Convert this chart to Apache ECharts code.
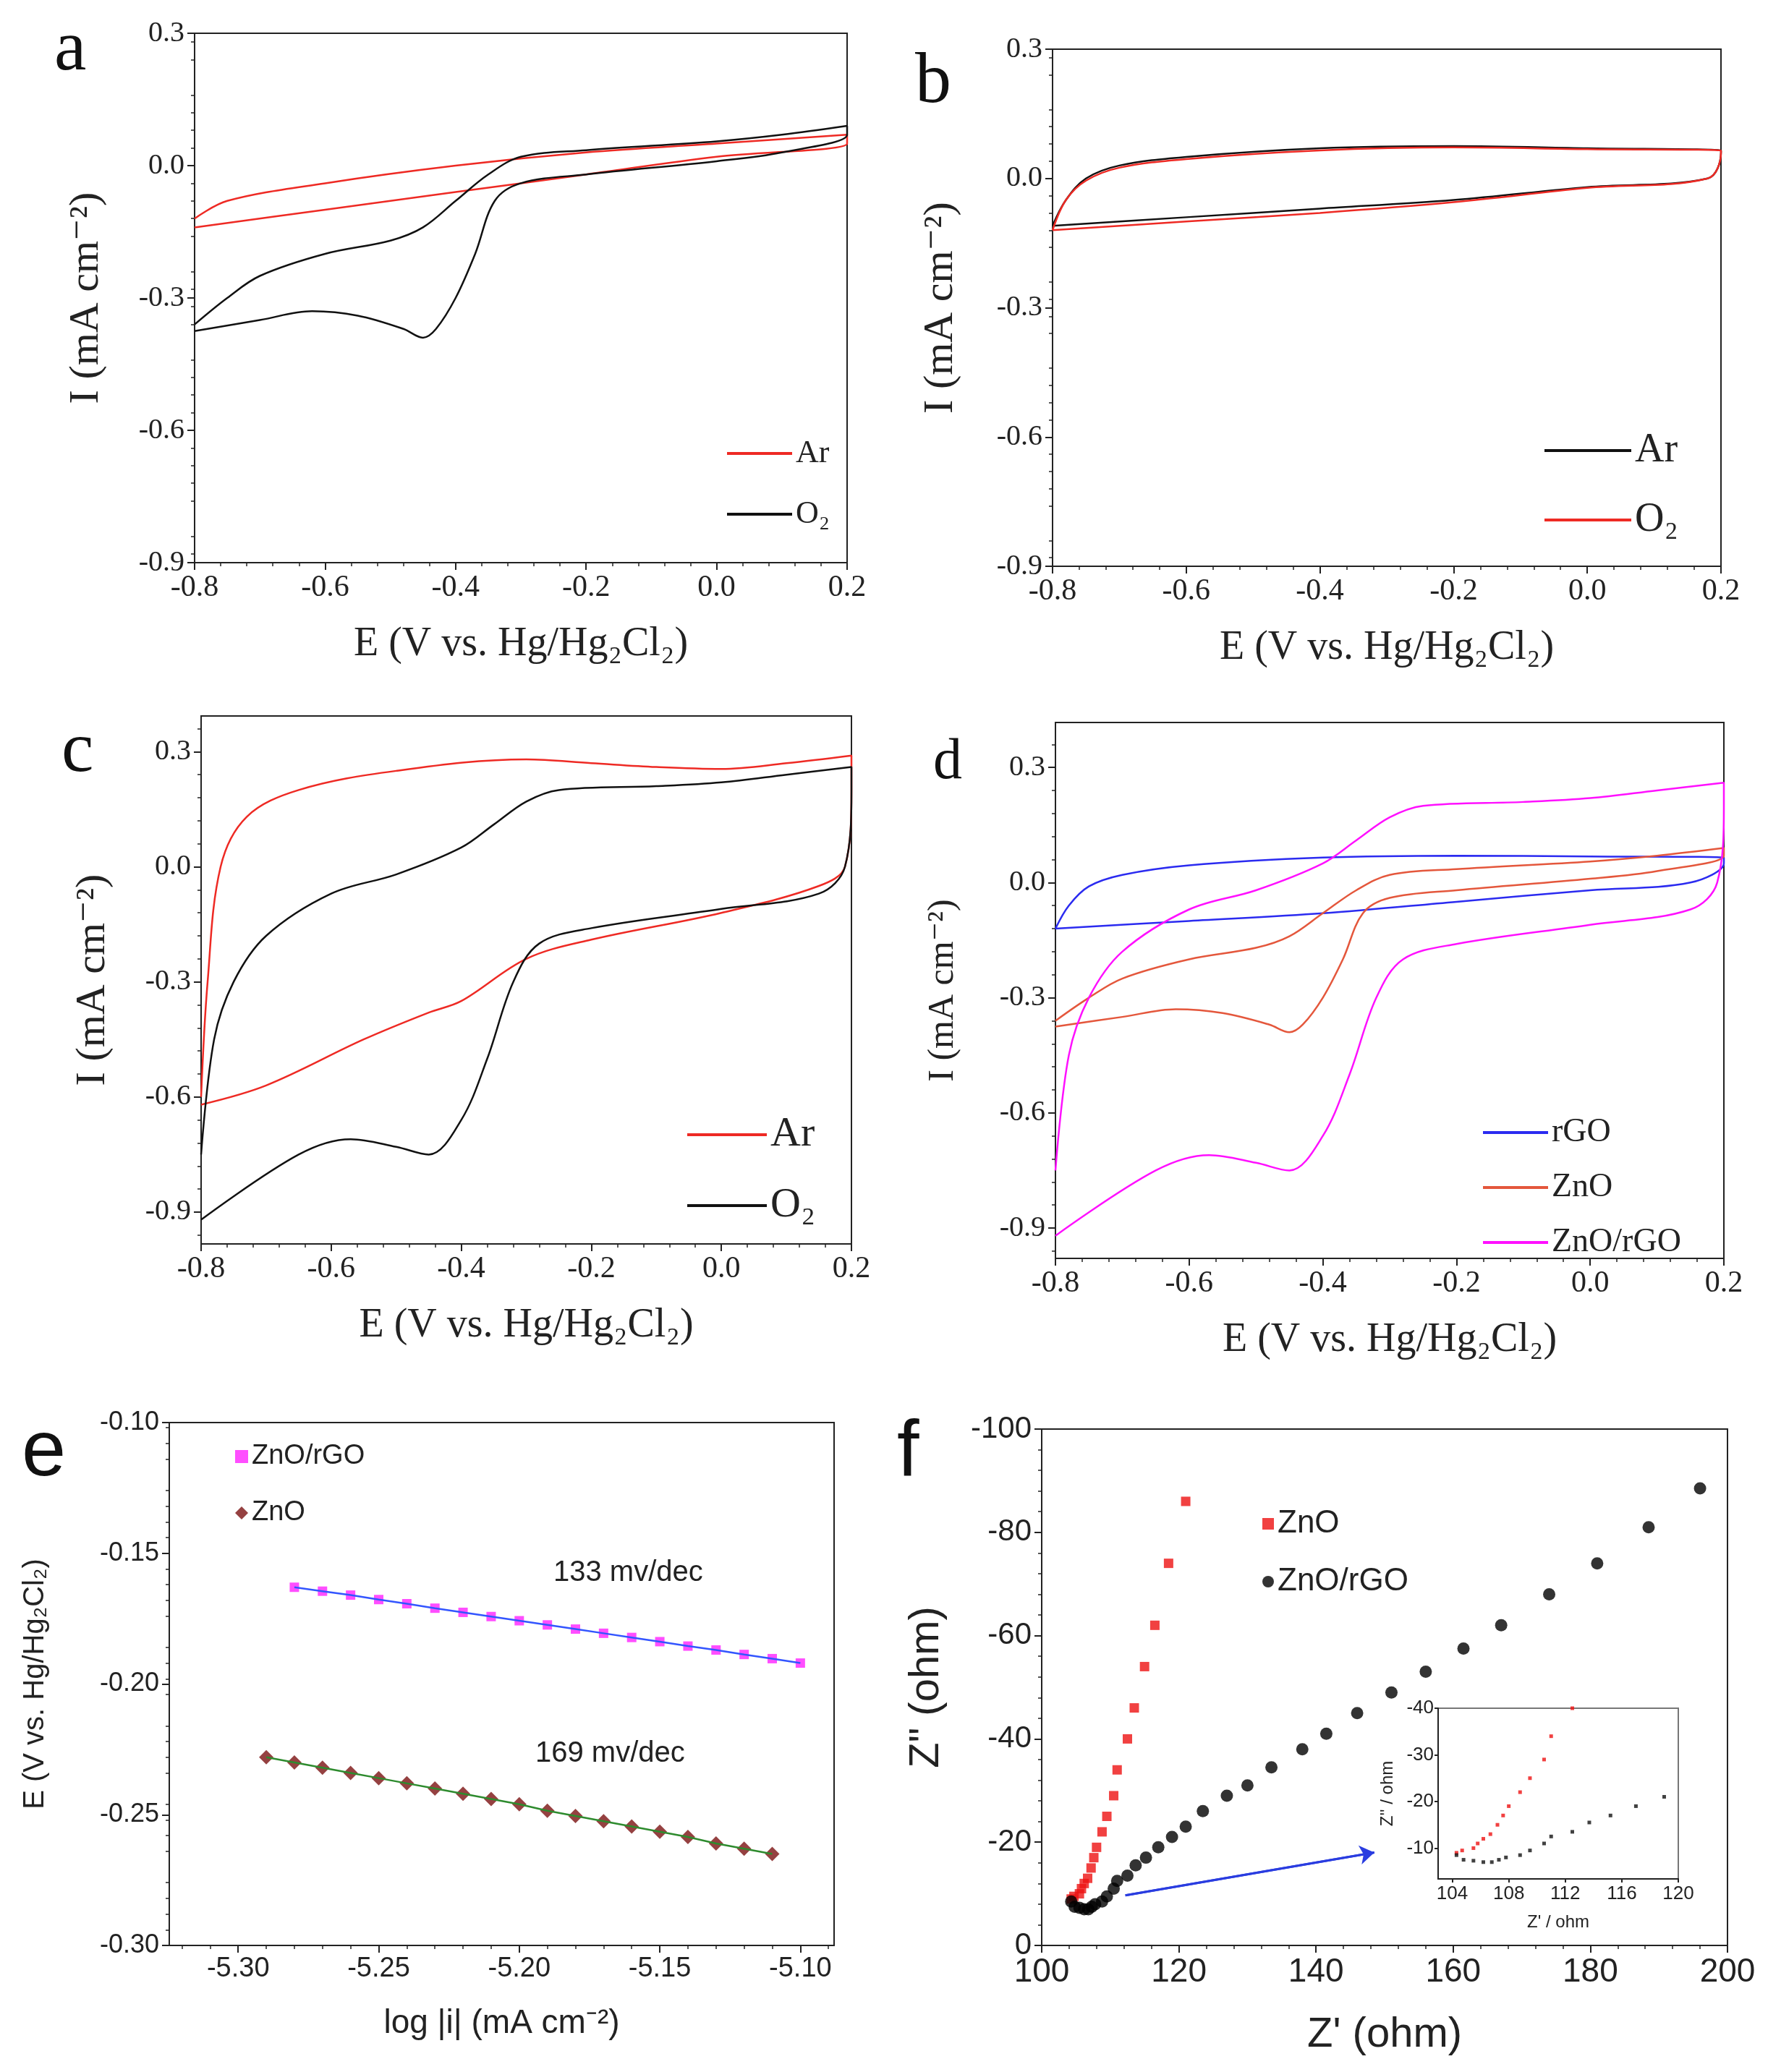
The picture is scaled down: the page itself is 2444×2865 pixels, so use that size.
<!DOCTYPE html>
<html><head><meta charset="utf-8">
<script src="https://cdn.jsdelivr.net/npm/echarts@6/dist/echarts.min.js"></script>
<style>html,body{margin:0;background:#fff}#c{width:2444px;height:2865px}</style>
</head><body><div id="c"></div>
<script>
// CV loops: [E, I] pairs, forward scan then return scan
const aAr = [[-0.8,-0.12],[-0.75,-0.08],[-0.6,-0.04],[-0.4,0.0],[-0.2,0.03],[0,0.05],[0.2,0.07],
  [0.2,0.05],[0,0.02],[-0.2,-0.02],[-0.4,-0.06],[-0.6,-0.1],[-0.8,-0.14]];
const aO2 = [[-0.8,-0.36],[-0.75,-0.3],[-0.7,-0.25],[-0.6,-0.2],[-0.5,-0.17],[-0.45,-0.14],[-0.4,-0.08],[-0.35,-0.02],[-0.3,0.02],[-0.2,0.035],[0,0.055],[0.1,0.07],[0.2,0.09],
  [0.2,0.07],[0.1,0.03],[0,0.01],[-0.2,-0.02],[-0.3,-0.04],[-0.34,-0.08],[-0.37,-0.2],[-0.4,-0.3],[-0.43,-0.37],[-0.45,-0.39],[-0.48,-0.37],[-0.55,-0.34],[-0.62,-0.33],[-0.7,-0.35],[-0.8,-0.375]];
const bAr = [[-0.8,-0.11],[-0.78,-0.05],[-0.75,0.0],[-0.7,0.03],[-0.6,0.05],[-0.4,0.07],[-0.2,0.075],[0,0.07],[0.2,0.065],
  [0.2,0.06],[0.18,0.0],[0,-0.02],[-0.2,-0.05],[-0.4,-0.07],[-0.6,-0.09],[-0.8,-0.11]];
const bO2 = [[-0.8,-0.12],[-0.78,-0.05],[-0.75,-0.005],[-0.7,0.025],[-0.6,0.045],[-0.4,0.065],[-0.2,0.072],[0,0.068],[0.2,0.065],
  [0.2,0.06],[0.18,0.0],[0,-0.022],[-0.2,-0.055],[-0.4,-0.08],[-0.6,-0.1],[-0.8,-0.12]];
const cAr = [[-0.8,-0.6],[-0.79,-0.3],[-0.77,0.0],[-0.73,0.13],[-0.65,0.2],[-0.5,0.25],[-0.3,0.28],[-0.2,0.27],[-0.1,0.26],[0,0.255],[0.1,0.27],[0.2,0.29],
  [0.2,0.2],[0.19,0.0],[0.15,-0.05],[0,-0.12],[-0.2,-0.19],[-0.3,-0.24],[-0.4,-0.35],[-0.45,-0.38],[-0.55,-0.45],[-0.7,-0.57],[-0.8,-0.62]];
const cO2 = [[-0.8,-0.75],[-0.78,-0.45],[-0.75,-0.3],[-0.7,-0.18],[-0.6,-0.07],[-0.5,-0.02],[-0.4,0.05],[-0.35,0.11],[-0.3,0.17],[-0.25,0.2],[-0.1,0.21],[0,0.22],[0.1,0.24],[0.2,0.26],
  [0.2,0.2],[0.19,0.0],[0.15,-0.07],[0,-0.11],[-0.2,-0.16],[-0.28,-0.2],[-0.32,-0.3],[-0.36,-0.5],[-0.4,-0.66],[-0.45,-0.75],[-0.5,-0.73],[-0.57,-0.71],[-0.65,-0.75],[-0.8,-0.92]];
const dRGO = [[-0.8,-0.12],[-0.78,-0.06],[-0.75,-0.01],[-0.7,0.02],[-0.6,0.045],[-0.4,0.065],[-0.2,0.07],[0,0.068],[0.2,0.065],
  [0.2,0.05],[0.15,0.0],[0,-0.02],[-0.2,-0.05],[-0.4,-0.08],[-0.6,-0.1],[-0.8,-0.12]];

// Tafel
const eXRgo = [-5.28,-5.27,-5.26,-5.25,-5.24,-5.23,-5.22,-5.21,-5.20,-5.19,-5.18,-5.17,-5.16,-5.15,-5.14,-5.13,-5.12,-5.11,-5.10];
const eYRgo = [-0.163,-0.1645,-0.166,-0.1677,-0.1693,-0.171,-0.1726,-0.1742,-0.1758,-0.1774,-0.179,-0.1806,-0.1822,-0.1838,-0.1855,-0.187,-0.1887,-0.1903,-0.192];
const eXZno = [-5.29,-5.28,-5.27,-5.26,-5.25,-5.24,-5.23,-5.22,-5.21,-5.20,-5.19,-5.18,-5.17,-5.16,-5.15,-5.14,-5.13,-5.12,-5.11];
const eYZno = [-0.228,-0.230,-0.232,-0.234,-0.236,-0.238,-0.240,-0.242,-0.244,-0.246,-0.2485,-0.2505,-0.2525,-0.2545,-0.2565,-0.2585,-0.261,-0.263,-0.265];

// Nyquist
const fZno = [[104.3,-9],[104.7,-9.5],[105.5,-10],[105.8,-11],[106.2,-12],[106.7,-13],[107.2,-15],[107.6,-17],[108,-19],[108.8,-22],[109.5,-25],[110.5,-29],[111,-34],[112.5,-40],[113.5,-46],[115,-54],[116.5,-62],[118.5,-74],[121,-86]];
const fRgo = [[104.3,-8.5],[104.8,-7.5],[105.5,-7.3],[106.2,-7],[106.8,-7],[107.3,-7.5],[107.8,-8],[108.8,-8.5],[109.5,-9.5],[110.5,-11],[111,-12.5],[112.5,-13.5],[113.7,-15.5],[115.2,-17],[117,-19],[119,-21],[121,-23],[123.5,-26],[127,-29],[130,-31],[133.5,-34.5],[138,-38],[141.5,-41],[146,-45],[151,-49],[156,-53],[161.5,-57.5],[167,-62],[174,-68],[181,-74],[188.5,-81],[196,-88.5]];
const arrowLine = [[112.2,-9.7],[148.5,-18]];

const SERIF = "'Liberation Serif', 'DejaVu Serif', serif";
const SANS = "'Liberation Sans', Arial, sans-serif";
const cvTicksX = [-0.8,-0.6,-0.4,-0.2,0.0,0.2];
const cvTicksY = [-0.9,-0.6,-0.3,0.0,0.3];

const grids = [
  { left: 269, top: 46, width: 902, height: 732 },
  { left: 1455, top: 68, width: 924, height: 715 },
  { left: 278, top: 990, width: 899, height: 730 },
  { left: 1459, top: 999, width: 924, height: 741 },
  { left: 234, top: 1967, width: 919, height: 723 },
  { left: 1440, top: 1976, width: 948, height: 714 },
  { left: 1988, top: 2362, width: 332, height: 236 },
].map(g => Object.assign({ show: true, borderColor: '#222', borderWidth: 2, backgroundColor: 'transparent' }, g));
grids[6].borderColor = '#777';

function axisCommon(font, size, fmt, ticks) {
  return {
    axisLine: { onZero: false, lineStyle: { color: '#222', width: 2 } },
    axisTick: { inside: false, length: 10, lineStyle: { color: '#222', width: 2 }, customValues: ticks },
    minorTick: { show: true, length: 5, lineStyle: { color: '#222', width: 1.5 } },
    axisLabel: { color: '#222', fontFamily: font, fontSize: size, formatter: fmt, customValues: ticks, margin: 14 },
    splitLine: { show: false },
  };
}
const f1 = v => v.toFixed(1), f2 = v => v.toFixed(2);

function cvX(i) {
  return Object.assign(axisCommon(SERIF, 42, f1, cvTicksX), {
    type: 'value', gridIndex: i, min: -0.8, max: 0.2,
    name: 'E (V vs. Hg/Hg₂Cl₂)', nameLocation: 'middle', nameGap: 85,
    nameTextStyle: { fontFamily: SERIF, fontSize: 56, color: '#222' },
  });
}
function cvY(i, min, max, gap, size) {
  return Object.assign(axisCommon(SERIF, 40, f1, cvTicksY), {
    type: 'value', gridIndex: i, min, max,
    name: 'I (mA cm⁻²)', nameLocation: 'middle', nameGap: gap, nameRotate: 90,
    nameTextStyle: { fontFamily: SERIF, fontSize: size, color: '#222' },
  });
}

const xAxis = [
  cvX(0), cvX(1), cvX(2), cvX(3),
  Object.assign(axisCommon(SANS, 38, f2, [-5.30,-5.25,-5.20,-5.15,-5.10]), {
    type: 'value', gridIndex: 4, min: -5.3245, max: -5.088,
    name: 'log |i| (mA cm⁻²)', nameLocation: 'middle', nameGap: 85,
    nameTextStyle: { fontFamily: SANS, fontSize: 46, color: '#222' } }),
  Object.assign(axisCommon(SANS, 46, null, [100,120,140,160,180,200]), {
    type: 'value', gridIndex: 5, min: 100, max: 200,
    name: "Z' (ohm)", nameLocation: 'middle', nameGap: 95,
    nameTextStyle: { fontFamily: SANS, fontSize: 58, color: '#222' } }),
  Object.assign(axisCommon(SANS, 26, null, [104,108,112,116,120]), {
    type: 'value', gridIndex: 6, min: 103, max: 120,
    name: "Z' / ohm", nameLocation: 'middle', nameGap: 48,
    nameTextStyle: { fontFamily: SANS, fontSize: 24, color: '#222' } }),
];
const yAxis = [
  cvY(0, -0.9, 0.3, 120, 58), cvY(1, -0.9, 0.3, 125, 58),
  cvY(2, -0.983, 0.393, 120, 58), cvY(3, -0.979, 0.417, 130, 50),
  Object.assign(axisCommon(SANS, 36, f2, [-0.30,-0.25,-0.20,-0.15,-0.10]), {
    type: 'value', gridIndex: 4, min: -0.30, max: -0.10,
    name: 'E (V vs. Hg/Hg₂Cl₂)', nameLocation: 'middle', nameGap: 165, nameRotate: 90,
    nameTextStyle: { fontFamily: SANS, fontSize: 40, color: '#222' } }),
  Object.assign(axisCommon(SANS, 42, null, [0,-20,-40,-60,-80,-100]), {
    type: 'value', gridIndex: 5, min: -100, max: 0, inverse: true,
    name: 'Z" (ohm)', nameLocation: 'middle', nameGap: 130, nameRotate: 90,
    nameTextStyle: { fontFamily: SANS, fontSize: 58, color: '#222' } }),
  Object.assign(axisCommon(SANS, 26, null, [-10,-20,-30,-40]), {
    type: 'value', gridIndex: 6, min: -40, max: -3.4, inverse: true,
    name: "Z'' / ohm", nameLocation: 'middle', nameGap: 58, nameRotate: 90,
    nameTextStyle: { fontFamily: SANS, fontSize: 24, color: '#222' } }),
];
yAxis[6].minorTick = { show: false };
xAxis[6].minorTick = { show: false };
yAxis[6].axisLabel.margin = 6; xAxis[6].axisLabel.margin = 8;
yAxis[6].axisTick.length = 5; xAxis[6].axisTick.length = 5;

function cv(name, data, i, color) {
  return { name, type: 'line', xAxisIndex: i, yAxisIndex: i, data, smooth: 0.35,
    symbol: 'none', lineStyle: { color, width: 2.5 }, itemStyle: { color } };
}
const RED = '#ee2a24', BLK = '#111';
const series = [
  cv('Ar', aAr, 0, RED), cv('O₂', aO2, 0, BLK),
  cv('Ar ', bAr, 1, BLK), cv('O₂ ', bO2, 1, RED),
  cv('Ar  ', cAr, 2, RED), cv('O₂  ', cO2, 2, BLK),
  cv('rGO', dRGO, 3, '#2b2bf0'), cv('ZnO', aO2, 3, '#e4573c'), cv('ZnO/rGO', cO2, 3, '#ff10ff'),
  { type: 'line', xAxisIndex: 4, yAxisIndex: 4, data: eXRgo.map((x, k) => [x, eYRgo[k]]), symbol: 'none', lineStyle: { color: '#3355ff', width: 2.5 }, silent: true },
  { name: 'ZnO/rGO ', type: 'scatter', xAxisIndex: 4, yAxisIndex: 4, data: eXRgo.map((x, k) => [x, eYRgo[k]]), symbol: 'rect', symbolSize: 13, itemStyle: { color: '#ff22ff' } },
  { type: 'line', xAxisIndex: 4, yAxisIndex: 4, data: eXZno.map((x, k) => [x, eYZno[k]]), symbol: 'none', lineStyle: { color: '#2e8b2e', width: 2.5 }, silent: true },
  { name: 'ZnO ', type: 'scatter', xAxisIndex: 4, yAxisIndex: 4, data: eXZno.map((x, k) => [x, eYZno[k]]), symbol: 'diamond', symbolSize: 20, itemStyle: { color: '#7a1212' } },
  { name: 'ZnO  ', type: 'scatter', xAxisIndex: 5, yAxisIndex: 5, data: fZno, symbol: 'rect', symbolSize: 13, itemStyle: { color: '#ee1111' } },
  { name: 'ZnO/rGO  ', type: 'scatter', xAxisIndex: 5, yAxisIndex: 5, data: fRgo, symbol: 'circle', symbolSize: 17, itemStyle: { color: '#000' } },
  { type: 'line', xAxisIndex: 5, yAxisIndex: 5, data: arrowLine, symbol: 'none', lineStyle: { color: '#2a3de0', width: 3 },
    markLine: { silent: true, symbol: ['none', 'arrow'], symbolSize: 20, label: { show: false }, lineStyle: { color: '#2a3de0', width: 3, type: 'solid' },
      data: [[{ coord: arrowLine[0] }, { coord: arrowLine[1] }]] } },
  { type: 'scatter', xAxisIndex: 6, yAxisIndex: 6, data: fZno, symbol: 'rect', symbolSize: 5, itemStyle: { color: '#ee1111' } },
  { type: 'scatter', xAxisIndex: 6, yAxisIndex: 6, data: fRgo, symbol: 'rect', symbolSize: 5, itemStyle: { color: '#111' } },
];

function leg(names, left, top, font, size, gap, w, icon) {
  return { data: names, left, top, orient: 'vertical', itemWidth: w, itemHeight: icon ? 14 : 4, itemGap: gap, selectedMode: false,
    icon: icon || 'rect', textStyle: { fontFamily: font, fontSize: size, color: '#222' } };
}
const legend = [
  leg(['Ar', 'O₂'], 1000, 600, SERIF, 44, 40, 90),
  leg(['Ar ', 'O₂ '], 2130, 590, SERIF, 56, 40, 120),
  leg(['Ar  ', 'O₂  '], 945, 1535, SERIF, 58, 40, 110),
  leg(['rGO', 'ZnO', 'ZnO/rGO'], 2045, 1538, SERIF, 46, 30, 90),
  { data: [{ name: 'ZnO/rGO ', icon: 'rect' }, { name: 'ZnO ', icon: 'diamond' }], left: 320, top: 1990, orient: 'vertical',
    itemWidth: 18, itemHeight: 18, itemGap: 40, selectedMode: false, textStyle: { fontFamily: SANS, fontSize: 38, color: '#222' } },
  { data: [{ name: 'ZnO  ', icon: 'rect' }, { name: 'ZnO/rGO  ', icon: 'circle' }], left: 1740, top: 2080, orient: 'vertical',
    itemWidth: 16, itemHeight: 16, itemGap: 36, selectedMode: false, textStyle: { fontFamily: SANS, fontSize: 44, color: '#222' } },
];

const letter = (t, x, y, font, size) => ({ type: 'text', left: x, top: y, style: { text: t, font: `${size}px ${font}`, fill: '#111' } });
const graphic = [
  letter('a', 75, 20, SERIF, 100), letter('b', 1265, 65, SERIF, 100),
  letter('c', 85, 990, SERIF, 100), letter('d', 1290, 1015, SERIF, 80),
  letter('e', 30, 1955, SANS, 110), letter('f', 1240, 1955, SANS, 110),
  { type: 'text', left: 765, top: 2155, style: { text: '133 mv/dec', font: `40px ${SANS}`, fill: '#222' } },
  { type: 'text', left: 740, top: 2405, style: { text: '169 mv/dec', font: `40px ${SANS}`, fill: '#222' } },
];

const chart = echarts.init(document.getElementById('c'));
chart.setOption({ backgroundColor: '#fff', animation: false, grid: grids, xAxis, yAxis, series, legend, graphic });
</script></body></html>
